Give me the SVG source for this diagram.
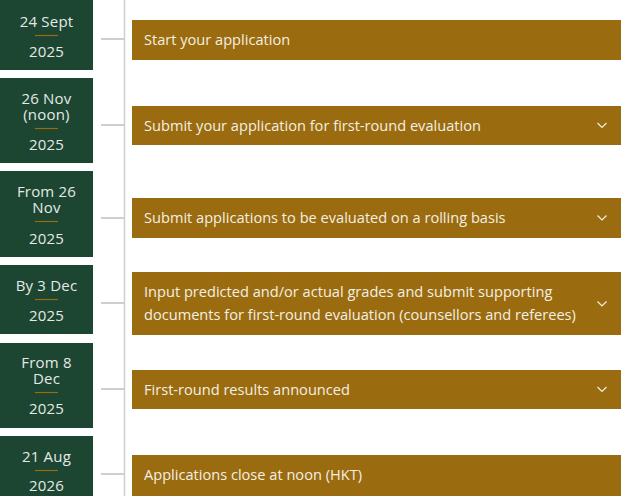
<svg xmlns="http://www.w3.org/2000/svg" width="621" height="496" viewBox="0 0 621 496">
<style>
.date{fill:#1c4532}
.dt{font-family:"Open Sans","Liberation Sans",sans-serif;font-size:15px;fill:#e3eae6;text-anchor:middle;letter-spacing:0.2px}
.sep{stroke:#9a6c10;stroke-width:1.2}
.bar{fill:#9a6c0f}
.bt{font-family:"Open Sans","Liberation Sans",sans-serif;font-size:14.6px;fill:#f4efe4}
.tick{stroke:#cfcfcf;stroke-width:2}
.chev{fill:none;stroke:#f4efe4;stroke-width:1.2}
</style>
<rect width="621" height="496" fill="#ffffff"/>
<g id="connectors">
<line x1="124.5" y1="0" x2="124.5" y2="496" stroke="#cfcfcf" stroke-width="1.5"/>
<line class="tick" x1="101" y1="39" x2="124" y2="39"/>
<line class="tick" x1="101" y1="125" x2="124" y2="125"/>
<line class="tick" x1="101" y1="218" x2="124" y2="218"/>
<line class="tick" x1="101" y1="303" x2="124" y2="303"/>
<line class="tick" x1="101" y1="389" x2="124" y2="389"/>
<line class="tick" x1="101" y1="474" x2="124" y2="474"/>
</g>
<g id="date1">
<rect class="date" x="0" y="0" width="93" height="70"/>
<text class="dt" x="46.5" y="26.5">24 Sept</text>
<line class="sep" x1="35" y1="35.5" x2="58" y2="35.5"/>
<text class="dt" x="46.5" y="57">2025</text>
</g>
<g id="date2">
<rect class="date" x="0" y="78" width="93" height="85"/>
<text class="dt" x="46.5" y="103.5">26 Nov</text>
<text class="dt" x="46.5" y="119.5">(noon)</text>
<line class="sep" x1="35" y1="128.5" x2="58" y2="128.5"/>
<text class="dt" x="46.5" y="149.5">2025</text>
</g>
<g id="date3">
<rect class="date" x="0" y="171" width="93" height="86"/>
<text class="dt" x="46.5" y="196.5">From 26</text>
<text class="dt" x="46.5" y="212.5">Nov</text>
<line class="sep" x1="35" y1="221.5" x2="58" y2="221.5"/>
<text class="dt" x="46.5" y="244">2025</text>
</g>
<g id="date4">
<rect class="date" x="0" y="265" width="93" height="69"/>
<text class="dt" x="46.5" y="290.5">By 3 Dec</text>
<line class="sep" x1="35" y1="299.5" x2="58" y2="299.5"/>
<text class="dt" x="46.5" y="321">2025</text>
</g>
<g id="date5">
<rect class="date" x="0" y="343" width="93" height="85"/>
<text class="dt" x="46.5" y="367.5">From 8</text>
<text class="dt" x="46.5" y="383.5">Dec</text>
<line class="sep" x1="35" y1="392.5" x2="58" y2="392.5"/>
<text class="dt" x="46.5" y="414">2025</text>
</g>
<g id="date6">
<rect class="date" x="0" y="436" width="93" height="60"/>
<text class="dt" x="46.5" y="461.5">21 Aug</text>
<line class="sep" x1="35" y1="470.5" x2="58" y2="470.5"/>
<text class="dt" x="46.5" y="490.5">2026</text>
</g>
<g id="step1">
<rect class="bar" x="132" y="20" width="489" height="40"/>
<text class="bt" x="144" y="45">Start your application</text>
</g>
<g id="step2">
<rect class="bar" x="132" y="106" width="489" height="39"/>
<text class="bt" x="144" y="130.5">Submit your application for first-round evaluation</text>
<path class="chev" d="M597.5 123 L602 127.5 L606.5 123"/>
</g>
<g id="step3">
<rect class="bar" x="132" y="198" width="489" height="40"/>
<text class="bt" x="144" y="223">Submit applications to be evaluated on a rolling basis</text>
<path class="chev" d="M597.5 215.5 L602 220 L606.5 215.5"/>
</g>
<g id="step4">
<rect class="bar" x="132" y="272" width="489" height="63"/>
<text class="bt" x="144" y="297">Input predicted and/or actual grades and submit supporting</text>
<text class="bt" x="144" y="320">documents for first-round evaluation (counsellors and referees)</text>
<path class="chev" d="M597.5 301.5 L602 306 L606.5 301.5"/>
</g>
<g id="step5">
<rect class="bar" x="132" y="370" width="489" height="39"/>
<text class="bt" x="144" y="394.5">First-round results announced</text>
<path class="chev" d="M597.5 387 L602 391.5 L606.5 387"/>
</g>
<g id="step6">
<rect class="bar" x="132" y="455" width="489" height="41"/>
<text class="bt" x="144" y="480">Applications close at noon (HKT)</text>
</g>
</svg>
